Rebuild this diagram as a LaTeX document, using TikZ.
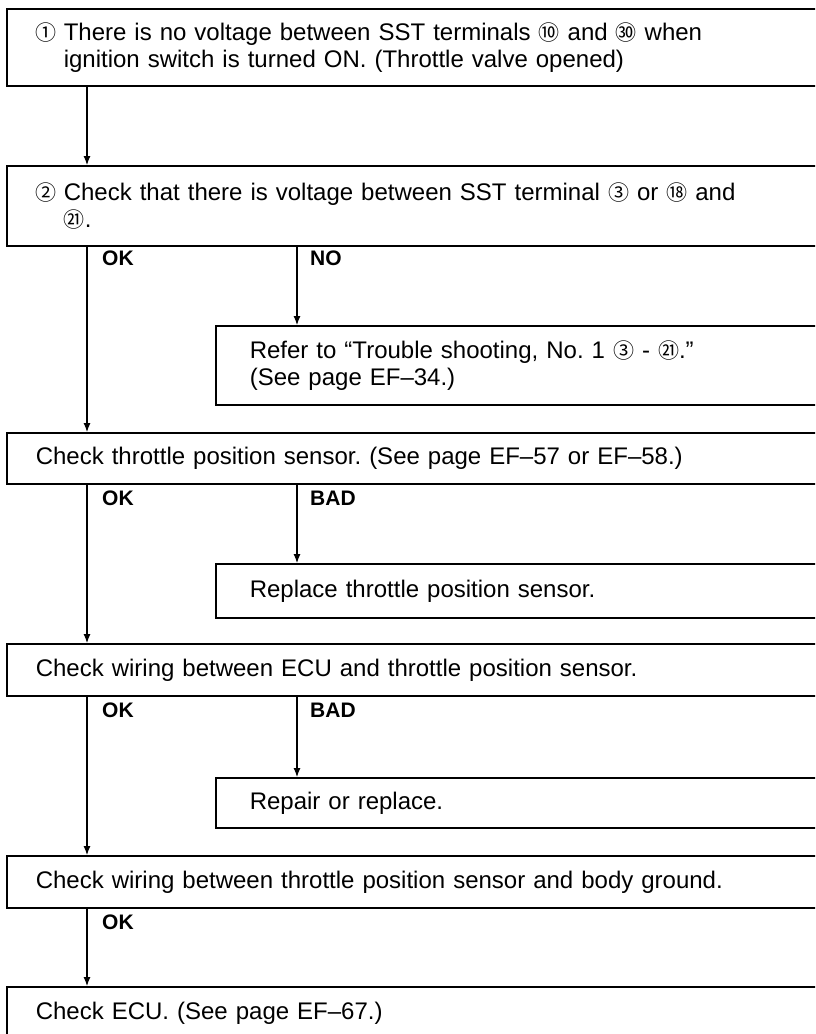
\documentclass[tikz,border=0pt]{standalone}
\usepackage{fontspec}
\setmainfont{Liberation Sans}
\newfontfamily\circfont{Noto Sans CJK SC}
\usetikzlibrary{arrows.meta, positioning}
\newcommand{\cnum}[1]{{\circfont\fontsize{21}{21}\selectfont #1}}
\frenchspacing

\begin{document}
\begin{tikzpicture}[x=1pt, y=-1pt,
    box/.style={draw, line width=1.6pt, anchor=north west, inner xsep=29pt, inner ysep=0pt, align=left, font=\fontsize{24}{27}\selectfont},
    leftbox/.style={box, text width=800pt},
    rightbox/.style={box, inner xsep=34pt, text width=600pt},
    flow/.style={line width=1.1pt, -{Latex[length=9pt, width=7pt]}},
    answer/.style={anchor=west, inner sep=0pt, font=\bfseries\fontsize{21}{21}\selectfont}]
  \useasboundingbox (0,0) rectangle (815,1034);
  \clip (0,0) rectangle (815,1034);
  \fill[white] (0,0) rectangle (815,1034);
  \coordinate (yes) at (87,0);
  \coordinate (no) at (297,0);
  \node[leftbox, minimum height=77pt] (noVolt) at (6,8) {\makebox[28pt][l]{\cnum{①}}There is no voltage between SST terminals \cnum{⑩} and \cnum{㉚} when\\
    \hspace*{28pt}ignition switch is turned ON. (Throttle valve opened)};
  \node[leftbox, minimum height=80pt] (volt) at (6,165) {\makebox[28pt][l]{\cnum{②}}Check that there is voltage between SST terminal \cnum{③} or \cnum{⑱} and\\
    \hspace*{28pt}\cnum{㉑}.};
  \node[rightbox, minimum height=79pt] (refer) at (215,325) {Refer to “Trouble shooting, No. 1 \cnum{③} - \cnum{㉑}.”\\
    (See page EF–34.)};
  \node[leftbox, minimum height=51pt] (tps) at (6,432) {Check throttle position sensor. (See page EF–57 or EF–58.)};
  \node[rightbox, minimum height=54pt] (replTps) at (215,563) {Replace throttle position sensor.};
  \node[leftbox, minimum height=52pt] (wireEcu) at (6,643) {Check wiring between ECU and throttle position sensor.};
  \node[rightbox, minimum height=50pt] (repair) at (215,777) {Repair or replace.};
  \node[leftbox, minimum height=52pt] (wireGnd) at (6,855) {Check wiring between throttle position sensor and body ground.};
  \node[leftbox, minimum height=52pt] (ecu) at (6,986) {Check ECU. (See page EF–67.)};
  \foreach \from/\to in {noVolt/volt, volt/tps, tps/wireEcu, wireEcu/wireGnd, wireGnd/ecu}
    \draw[flow] (\from.south -| yes) -- (\to.north -| yes);
  \foreach \from/\to in {volt/refer, tps/replTps, wireEcu/repair}
    \draw[flow] (\from.south -| no) -- (\to.north -| no);
  \foreach \y [count=\i] in {258, 498, 710, 922}
    \node[answer] (ok\i) at (102,\y) {OK};
  \foreach \y/\word [count=\i] in {258/NO, 498/BAD, 710/BAD}
    \node[answer] (bad\i) at (310,\y) {\word};
\end{tikzpicture}
\end{document}
